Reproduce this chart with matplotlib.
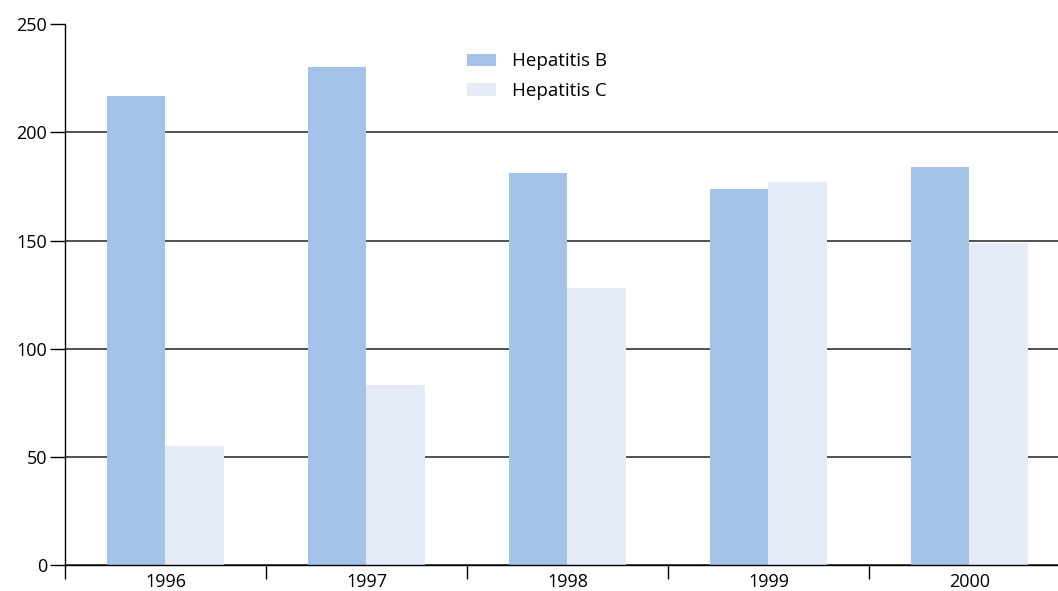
import matplotlib.pyplot as plt
import numpy as np

# data
years      = ['1996', '1997', '1998', '1999', '2000']
hepatitisB = [217, 230, 181, 174, 184]
hepatitisC = [55, 83, 128, 177, 149]

plt.rcParams['font.family'] = ['Open Sans', 'DejaVu Sans']

fig = plt.figure(figsize=(10.58, 5.91), dpi=100)
ax = fig.add_axes([0.0614, 0.044, 0.9386, 0.915])

x = np.arange(len(years))
w = 0.29
ax.bar(x - w/2, hepatitisB, w, color='#A3C3E8', label='Hepatitis B', zorder=2)
ax.bar(x + w/2, hepatitisC, w, color='#E4EBF6', label='Hepatitis C', zorder=2)

ax.set_ylim(0, 250)
ax.set_xlim(-0.5, -0.5 + 993/201)
ax.set_yticks([0, 50, 100, 150, 200, 250])
ax.yaxis.grid(True, color='#333333', linewidth=1.2, zorder=1)
ax.set_axisbelow(True)
# no gridline at the top tick
ax.yaxis.get_gridlines()[-1].set_visible(False)

ax.set_xticks(x)
ax.set_xticklabels(years)
ax.set_xticks(np.arange(-0.5, 4.5, 1), minor=True)
ax.tick_params(axis='x', which='major', length=0, labelsize=13, pad=6)
ax.tick_params(axis='x', which='minor', length=10, width=1, direction='out')
ax.tick_params(axis='y', length=11, width=1, labelsize=13, pad=2)

for s in ['top', 'right']:
    ax.spines[s].set_visible(False)
ax.spines['left'].set_linewidth(1)
ax.spines['bottom'].set_linewidth(1)

ax.legend(loc='upper left', bbox_to_anchor=(0.425, 0.94), bbox_transform=fig.transFigure,
          frameon=False, fontsize=13.5, handlelength=1.55, handleheight=0.64,
          handletextpad=0.9, labelspacing=0.62)

fig.savefig('out.png', dpi=100)
